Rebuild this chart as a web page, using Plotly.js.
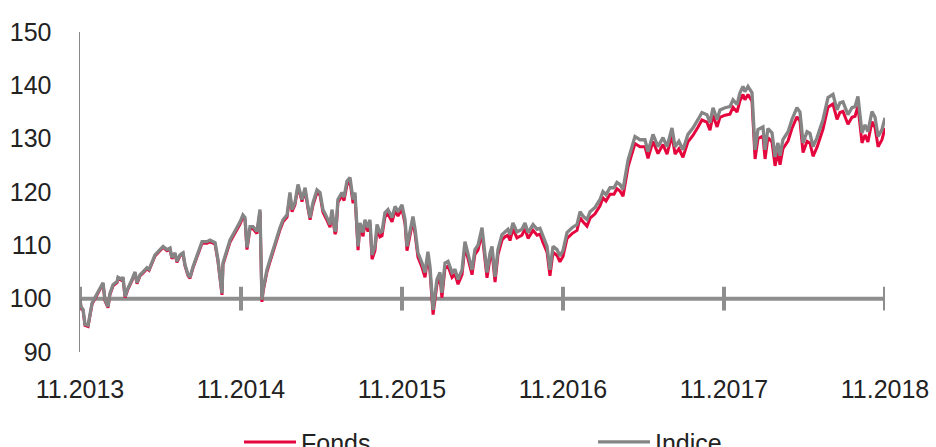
<!DOCTYPE html>
<html>
<head>
<meta charset="utf-8">
<script src="https://cdn.plot.ly/plotly-3.0.1.min.js"></script>
<style>
html,body{margin:0;padding:0;background:#fff;}
#chart{width:936px;height:447px;}
</style>
</head>
<body>
<div id="chart"></div>
<script>
// time in decimal years
var years = [2013.833,2013.839,2013.852,2013.864,2013.883,2013.895,2013.908,2013.926,2013.945,2013.970,2013.976,2013.988,2014.007,2014.019,2014.038,2014.063,2014.069,2014.094,2014.100,2014.113,2014.131,2014.156,2014.175,2014.187,2014.206,2014.224,2014.249,2014.262,2014.280,2014.299,2014.330,2014.349,2014.373,2014.392,2014.404,2014.423,2014.435,2014.454,2014.473,2014.485,2014.504,2014.516,2014.535,2014.560,2014.591,2014.622,2014.640,2014.672,2014.690,2014.703,2014.715,2014.721,2014.746,2014.765,2014.783,2014.808,2014.827,2014.845,2014.858,2014.870,2014.889,2014.908,2014.932,2014.951,2014.963,2014.970,2014.994,2015.013,2015.032,2015.057,2015.075,2015.094,2015.119,2015.137,2015.150,2015.168,2015.187,2015.212,2015.231,2015.249,2015.262,2015.280,2015.305,2015.324,2015.342,2015.367,2015.386,2015.398,2015.417,2015.423,2015.435,2015.460,2015.473,2015.491,2015.510,2015.529,2015.541,2015.560,2015.572,2015.591,2015.603,2015.622,2015.634,2015.647,2015.665,2015.678,2015.696,2015.709,2015.727,2015.746,2015.771,2015.790,2015.808,2015.833,2015.852,2015.864,2015.883,2015.901,2015.914,2015.932,2015.957,2015.976,2015.994,2016.007,2016.026,2016.050,2016.069,2016.081,2016.100,2016.119,2016.144,2016.162,2016.181,2016.206,2016.224,2016.243,2016.268,2016.286,2016.305,2016.330,2016.336,2016.361,2016.380,2016.392,2016.411,2016.429,2016.454,2016.473,2016.491,2016.504,2016.522,2016.547,2016.578,2016.597,2016.616,2016.647,2016.672,2016.690,2016.709,2016.734,2016.752,2016.771,2016.796,2016.814,2016.833,2016.858,2016.889,2016.920,2016.939,2016.957,2016.982,2017.001,2017.032,2017.063,2017.081,2017.100,2017.125,2017.150,2017.168,2017.187,2017.206,2017.237,2017.280,2017.311,2017.342,2017.361,2017.392,2017.423,2017.454,2017.479,2017.510,2017.529,2017.553,2017.578,2017.609,2017.640,2017.672,2017.696,2017.727,2017.746,2017.765,2017.790,2017.808,2017.839,2017.870,2017.889,2017.914,2017.932,2017.951,2017.963,2017.982,2018.007,2018.026,2018.044,2018.075,2018.088,2018.106,2018.131,2018.150,2018.168,2018.181,2018.199,2018.231,2018.255,2018.286,2018.305,2018.324,2018.349,2018.367,2018.386,2018.411,2018.429,2018.448,2018.479,2018.510,2018.535,2018.553,2018.572,2018.603,2018.628,2018.647,2018.665,2018.690,2018.709,2018.727,2018.752,2018.771,2018.790,2018.814,2018.833];

var indice = [100.0,98.5,98.0,95.2,95.0,97.4,99.2,100.2,101.3,102.6,103.0,99.8,98.5,101.0,102.6,103.2,104.0,103.6,104.1,100.4,102.0,103.6,105.0,103.0,104.5,105.0,105.8,105.5,106.7,108.2,109.2,109.8,109.2,109.5,107.7,108.6,107.0,108.2,108.6,106.4,104.5,104.0,106.0,108.2,110.7,110.7,111.0,110.5,107.3,104.0,101.0,106.7,109.2,111.0,112.0,113.3,114.4,115.7,115.2,109.6,113.5,113.5,112.6,116.7,99.8,101.7,105.4,107.3,109.2,111.6,113.3,114.8,115.7,119.9,116.7,118.0,121.4,118.6,120.8,117.3,115.2,118.0,120.4,119.9,116.7,115.2,113.9,116.7,112.6,113.0,118.6,119.9,119.0,122.0,122.7,118.6,119.9,109.8,114.2,112.4,114.8,113.3,114.8,108.2,109.8,113.9,112.4,112.6,116.1,116.7,115.2,117.3,116.3,117.6,114.8,109.8,113.0,115.4,113.0,108.6,106.7,104.9,108.8,106.0,97.9,103.6,104.9,101.1,106.7,107.0,104.9,105.5,103.6,105.4,110.7,108.6,105.4,109.2,110.0,113.3,111.6,104.9,108.6,109.8,104.1,109.2,112.0,112.6,113.0,112.0,114.2,112.5,113.0,114.2,112.4,113.9,113.0,113.2,111.6,109.8,105.4,109.8,109.2,108.0,109.0,112.4,113.3,113.9,116.3,115.5,114.8,116.3,117.1,118.6,120.1,119.5,120.8,120.8,121.8,121.4,120.5,126.0,130.4,129.8,129.8,127.6,130.8,128.5,130.2,128.5,132.0,128.5,129.5,127.9,130.8,132.0,133.6,134.9,134.5,133.0,135.8,133.6,135.4,135.8,136.0,137.3,136.4,138.6,139.8,138.8,139.8,138.6,127.9,131.7,132.2,127.9,131.9,131.1,126.6,129.2,126.8,129.8,131.3,133.6,135.8,135.0,129.2,131.3,131.0,128.5,130.2,131.7,133.6,137.7,138.3,135.4,136.7,136.9,134.5,135.8,136.0,137.9,131.1,132.6,131.3,135.1,134.0,130.4,131.7,133.9];

var fonds = [99.9,98.3,97.8,95.0,94.8,97.2,99.0,100.0,101.1,102.4,102.8,99.6,98.3,100.8,102.4,103.0,103.8,103.4,103.9,100.2,101.8,103.4,104.8,102.8,104.3,104.8,105.6,105.3,106.5,108.0,109.0,109.6,109.0,109.3,107.5,108.4,106.8,108.0,108.4,106.2,104.3,103.8,105.8,108.0,110.4,110.4,110.7,110.2,107.0,103.7,100.7,106.4,108.9,110.6,111.6,112.9,114.0,115.3,114.8,109.2,113.1,113.1,112.2,116.3,99.4,101.3,105.0,106.9,108.8,111.2,112.9,114.4,115.3,119.5,116.3,117.6,121.0,118.2,120.4,116.9,114.8,117.5,119.9,119.4,116.2,114.7,113.4,116.2,112.1,112.5,118.1,119.3,118.4,121.3,122.0,117.9,119.2,109.1,113.5,111.7,114.1,112.6,114.1,107.4,109.0,113.1,111.6,111.8,115.3,115.9,114.4,116.5,115.5,116.8,114.0,109.0,112.2,114.6,112.2,107.8,105.9,104.0,107.9,105.1,97.0,102.7,104.0,100.2,105.8,106.1,104.0,104.6,102.7,104.5,109.8,107.7,104.5,108.3,109.1,112.3,110.6,103.9,107.6,108.8,103.1,108.2,111.0,111.6,111.9,110.9,113.1,111.4,111.9,113.1,111.3,112.8,111.9,112.1,110.5,108.7,104.3,108.7,108.1,106.9,107.9,111.3,112.2,112.8,115.2,114.4,113.6,115.1,115.9,117.4,118.9,118.3,119.6,119.6,120.6,120.2,119.2,124.7,129.1,128.5,128.5,126.3,129.5,127.2,128.9,127.1,130.6,127.1,128.1,126.5,129.4,130.6,132.2,133.5,133.1,131.6,134.4,132.2,134.0,134.4,134.6,135.9,135.0,137.1,138.3,137.3,138.3,137.0,126.2,130.0,130.5,126.2,130.2,129.4,124.9,127.5,125.1,128.1,129.6,131.9,134.1,133.3,127.4,129.5,129.2,126.7,128.4,129.9,131.8,135.9,136.5,133.6,134.9,135.1,132.7,134.0,134.2,136.1,129.2,130.7,129.4,133.2,132.1,128.5,129.8,132.0];

var tickYears = [2013.833,2014.833,2015.833,2016.833,2017.833,2018.833];
var tickLabels = ['11.2013','11.2014','11.2015','11.2016','11.2017','11.2018'];
var yTicks = [90,100,110,120,130,140,150];
var baseValue = [100,100,100,100,100,100];

var FONT = 'Liberation Sans, Arial, sans-serif';
var GRAY = '#858585';
var RED = '#e5063e';

var traces = [
  {x: tickYears, y: baseValue, mode:'lines+markers', showlegend:false, hoverinfo:'skip',
   line:{color:'#8e8e8e', width:4},
   marker:{symbol:'line-ns', size:17, line:{color:'#8e8e8e', width:4}}},
  {x: years, y: fonds, name:'Fonds', mode:'lines', line:{color:RED, width:3}},
  {x: years, y: indice, name:'Indice', mode:'lines', line:{color:GRAY, width:3.3}}
];

var layout = {
  width:936, height:447,
  margin:{l:80, r:51, t:32, b:95, autoexpand:false},
  paper_bgcolor:'#fff', plot_bgcolor:'#fff',
  font:{family:FONT, color:'#222'},
  showlegend:true,
  xaxis:{range:[2013.833,2018.833], tickmode:'array', tickvals:tickYears, ticktext:tickLabels,
    showgrid:false, zeroline:false, showline:false, ticks:'outside', ticklen:15, tickcolor:'rgba(0,0,0,0)',
    tickfont:{family:FONT, size:25, color:'#222'}},
  yaxis:{range:[90,150], tickmode:'array', tickvals:yTicks, showgrid:false, zeroline:false,
    showline:true, linecolor:'#8a8a8a', linewidth:1.5, ticks:'outside', ticklen:22, tickcolor:'rgba(0,0,0,0)',
    tickfont:{family:FONT, size:25, color:'#222'}},
  legend:{orientation:'h', x:0.1975, xanchor:'left', y:-0.21, yanchor:'top', itemwidth:52,
    font:{family:FONT, size:25, color:'#222'}, entrywidth:287, entrywidthmode:'pixels',
    bgcolor:'rgba(0,0,0,0)', traceorder:'normal'}
};

Plotly.newPlot('chart', traces, layout, {displayModeBar:false, staticPlot:true});
</script>
</body>
</html>
